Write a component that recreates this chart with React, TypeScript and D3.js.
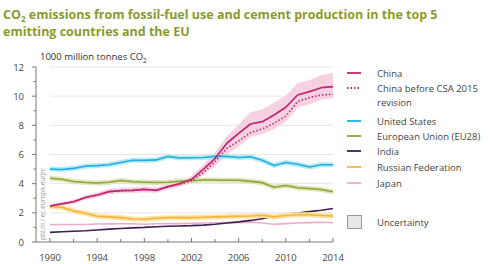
import React from "react";
import * as d3 from "d3";

const years = d3.range(1990, 2015);
const xTickYears = [1990, 1994, 1998, 2002, 2006, 2010, 2014];
const yTicks = [0, 2, 4, 6, 8, 10, 12];

const china = [2.47, 2.61, 2.76, 3.05, 3.22, 3.45, 3.52, 3.54, 3.61, 3.54, 3.8, 4.0, 4.3, 4.98, 5.74, 6.77, 7.45, 8.09, 8.25, 8.71, 9.24, 10.08, 10.31, 10.58, 10.65];
const chinaBeforeCSA = [2.47, 2.61, 2.76, 3.05, 3.22, 3.45, 3.52, 3.54, 3.61, 3.54, 3.78, 3.95, 4.2, 4.75, 5.51, 6.42, 6.93, 7.5, 7.75, 8.14, 8.64, 9.63, 9.9, 10.08, 10.13];
const chinaUpper = [2.6, 2.75, 2.9, 3.2, 3.4, 3.65, 3.72, 3.74, 3.8, 3.74, 4.0, 4.2, 4.55, 5.3, 6.15, 7.25, 8.05, 8.9, 9.1, 9.55, 10.05, 10.9, 11.1, 11.45, 11.6];
const chinaLower = [2.35, 2.48, 2.62, 2.9, 3.06, 3.27, 3.34, 3.36, 3.42, 3.36, 3.6, 3.78, 4.05, 4.6, 5.2, 6.0, 6.55, 7.2, 7.4, 7.75, 8.25, 9.2, 9.45, 9.75, 9.85];
const unitedStates = [5.0, 4.97, 5.05, 5.2, 5.24, 5.3, 5.45, 5.6, 5.6, 5.63, 5.87, 5.76, 5.78, 5.79, 5.87, 5.87, 5.79, 5.84, 5.6, 5.25, 5.45, 5.33, 5.14, 5.3, 5.3];
const europeanUnion = [4.37, 4.3, 4.15, 4.08, 4.05, 4.1, 4.22, 4.13, 4.1, 4.08, 4.1, 4.16, 4.2, 4.25, 4.25, 4.23, 4.23, 4.16, 4.07, 3.75, 3.87, 3.72, 3.67, 3.6, 3.44];
const india = [0.66, 0.7, 0.74, 0.77, 0.82, 0.88, 0.93, 0.97, 1.0, 1.05, 1.08, 1.1, 1.12, 1.16, 1.22, 1.3, 1.38, 1.48, 1.6, 1.75, 1.9, 1.98, 2.08, 2.18, 2.3];
const russia = [2.42, 2.38, 2.13, 1.97, 1.77, 1.72, 1.67, 1.58, 1.56, 1.63, 1.67, 1.67, 1.67, 1.7, 1.72, 1.74, 1.77, 1.78, 1.83, 1.72, 1.82, 1.87, 1.87, 1.82, 1.78];
const japan = [1.19, 1.2, 1.2, 1.2, 1.23, 1.24, 1.25, 1.25, 1.22, 1.25, 1.27, 1.26, 1.28, 1.3, 1.32, 1.33, 1.33, 1.36, 1.3, 1.22, 1.26, 1.3, 1.33, 1.35, 1.32];

const legendLabels = ["China", "China before CSA 2015", "United States", "European Union (EU28)", "India", "Russian Federation", "Japan"];

const W = 498;
const H = 264;
const FONT = "'Open Sans', 'DejaVu Sans', sans-serif";

export default function App() {
  const x = d3.scaleLinear().domain([1990, 2014]).range([50, 333]);
  const y = d3.scaleLinear().domain([0, 12]).range([242, 67]);
  const line = (vals: number[]) =>
    d3.line<number>().x((_, i) => x(years[i])).y((v) => y(v))(vals) || "";
  const band = d3
    .area<number>()
    .x((_, i) => x(years[i]))
    .y0((_, i) => y(chinaLower[i]))
    .y1((_, i) => y(chinaUpper[i]))(years.map((_, i) => i)) || "";

  const series = [
    { vals: japan, color: "#eeaacb", glow: null },
    { vals: india, color: "#3d1f50", glow: null },
    { vals: russia, color: "#f4b53a", glow: "#fbe2a6" },
    { vals: europeanUnion, color: "#8da33c", glow: "#dde7b6" },
    { vals: unitedStates, color: "#1ab2df", glow: "#bde9f7" },
  ];

  const legendItems = [
    { label: "China", color: "#c0266f", dash: null, y: 73 },
    { label: "China before CSA 2015", label2: "revision", color: "#c0266f", dash: "1.5,2", y: 88 },
    { label: "United States", color: "#1ab2df", dash: null, y: 121 },
    { label: "European Union (EU28)", color: "#8da33c", dash: null, y: 136 },
    { label: "India", color: "#3d1f50", dash: null, y: 151 },
    { label: "Russian Federation", color: "#f4b53a", dash: null, y: 167 },
    { label: "Japan", color: "#eeaacb", dash: null, y: 183 },
  ];

  return (
    <div style={{ position: "fixed", left: 0, top: 0, width: W, height: H, background: "#fff" }}>
      <svg width={W} height={H} style={{ display: "block" }} fontFamily={FONT}>
        <rect width={W} height={H} fill="#fff" />
        <text x={3} y={19} fontSize={12.5} fontWeight={700} fill="#8a9a2c">
          CO<tspan fontSize={8} dy={3}>2</tspan>
          <tspan dy={-3}> emissions from fossil-fuel use and cement production in the top 5</tspan>
        </text>
        <text x={3} y={36} fontSize={12.5} fontWeight={700} fill="#8a9a2c">
          emitting countries and the EU
        </text>
        <text x={40} y={60} fontSize={9.5} fill="#333">
          1000 million tonnes CO<tspan fontSize={6.5} dy={2.5}>2</tspan>
        </text>

        {/* gridlines */}
        {yTicks.filter((t) => t > 0).map((t) => (
          <line key={t} x1={50} x2={333} y1={y(t)} y2={y(t)} stroke="#e6e6e6" strokeWidth={1} />
        ))}

        {/* y axis */}
        <line x1={36} x2={36} y1={y(12)} y2={y(0)} stroke="#777" strokeWidth={1} />
        {d3.range(0, 13).map((t) => (
          <line key={t} x1={t % 2 === 0 ? 32 : 33.5} x2={36} y1={y(t)} y2={y(t)} stroke="#777" strokeWidth={1} />
        ))}
        {yTicks.map((t) => (
          <text key={t} x={24} y={y(t) + 3.5} fontSize={9.5} fill="#444" textAnchor="end">
            {t}
          </text>
        ))}

        {/* x axis */}
        <line x1={36} x2={333} y1={y(0)} y2={y(0)} stroke="#777" strokeWidth={1} />
        {years.filter((yr) => yr % 2 === 0).map((yr) => (
          <line key={yr} x1={x(yr)} x2={x(yr)} y1={y(0)} y2={y(0) - (yr % 4 === 2 ? 4 : 3)} stroke="#777" strokeWidth={1} />
        ))}
        {xTickYears.map((yr) => (
          <text key={yr} x={x(yr)} y={261} fontSize={9.5} fill="#444" textAnchor="middle">
            {yr}
          </text>
        ))}

        {/* source */}
        <text transform="translate(45,240) rotate(-90)" fontSize={6.5} fill="#999">
          pbl.nl / ec.europa.eu/jrc
        </text>

        {/* China uncertainty */}
        <path d={band} fill="#f5c9dc" opacity={0.85} />

        {series.map((s, i) => (
          <g key={i}>
            {s.glow && <path d={line(s.vals)} fill="none" stroke={s.glow} strokeWidth={5} strokeLinejoin="round" />}
            <path d={line(s.vals)} fill="none" stroke={s.color} strokeWidth={1.6} strokeLinejoin="round" />
          </g>
        ))}

        <path d={line(chinaBeforeCSA)} fill="none" stroke="#c0266f" strokeWidth={1.6} strokeDasharray="1.5,2" />
        <path d={line(china)} fill="none" stroke="#c0266f" strokeWidth={1.7} strokeLinejoin="round" />

        {/* legend */}
        {legendItems.map((it) => (
          <g key={it.label}>
            <line x1={347} x2={361} y1={it.y} y2={it.y} stroke={it.color} strokeWidth={1.8} strokeDasharray={it.dash || undefined} />
            <text x={377} y={it.y + 3.5} fontSize={9.5} fill="#444">
              {it.label}
            </text>
            {it.label2 && (
              <text x={377} y={it.y + 17.5} fontSize={9.5} fill="#444">
                {it.label2}
              </text>
            )}
          </g>
        ))}
        <rect x={347.5} y={215.5} width={14} height={13} fill="#e8e8e8" stroke="#999" strokeWidth={1} />
        <text x={377} y={225.5} fontSize={9.5} fill="#444">
          Uncertainty
        </text>
      </svg>
    </div>
  );
}
